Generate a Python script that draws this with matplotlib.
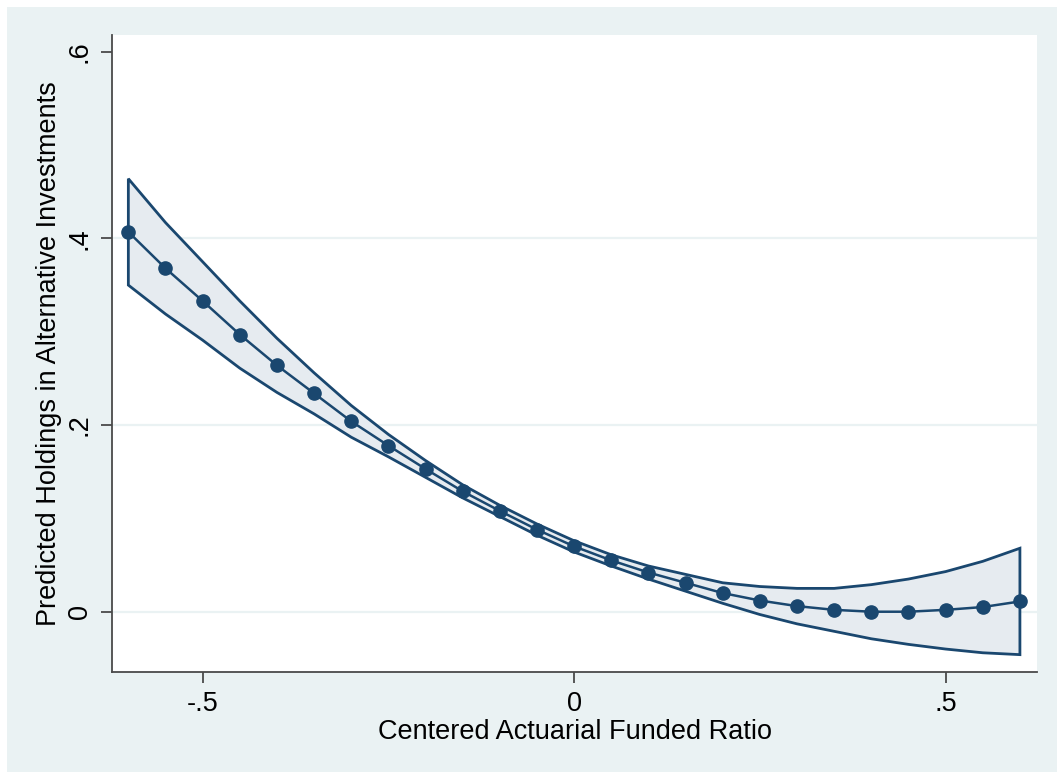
import matplotlib
matplotlib.use("Agg")
import matplotlib.pyplot as plt
from matplotlib.patches import Rectangle

# Centered actuarial funded ratio grid
funded_ratio = [-0.60, -0.55, -0.50, -0.45, -0.40, -0.35, -0.30, -0.25, -0.20,
                -0.15, -0.10, -0.05, 0.00, 0.05, 0.10, 0.15, 0.20, 0.25,
                0.30, 0.35, 0.40, 0.45, 0.50, 0.55, 0.60]

# Predicted holdings (margins) and 95% confidence bounds
predicted = [0.407, 0.368, 0.333, 0.297, 0.264, 0.234, 0.204, 0.178, 0.153,
             0.129, 0.108, 0.088, 0.070, 0.055, 0.042, 0.031, 0.020, 0.012,
             0.006, 0.002, 0.000, 0.000, 0.002, 0.005, 0.011]
upper_ci = [0.464, 0.417, 0.375, 0.333, 0.293, 0.256, 0.221, 0.190, 0.162,
            0.136, 0.114, 0.094, 0.076, 0.061, 0.049, 0.040, 0.031, 0.027,
            0.025, 0.025, 0.029, 0.035, 0.043, 0.054, 0.068]
lower_ci = [0.350, 0.319, 0.291, 0.261, 0.235, 0.212, 0.187, 0.166, 0.144,
            0.122, 0.102, 0.082, 0.064, 0.049, 0.035, 0.022, 0.009, -0.003,
            -0.013, -0.021, -0.029, -0.035, -0.040, -0.044, -0.046]

x_ticks = [-0.5, 0.0, 0.5]
x_tick_labels = ["-.5", "0", ".5"]
y_ticks = [0.0, 0.2, 0.4, 0.6]
y_tick_labels = ["0", ".2", ".4", ".6"]

NAVY = "#1a476f"
REGION = "#eaf2f3"
BAND = "#e6ebf0"
AXIS = "#4a4a4a"
FS = 19.5

plt.rcParams["font.family"] = ["Liberation Sans", "DejaVu Sans"]

fig = plt.figure(figsize=(10.57, 7.72), dpi=100)
fig.patch.set_facecolor("white")
# graph region background
fig.add_artist(Rectangle((7 / 1057, 0), 1 - 7 / 1057, 1 - 7 / 772,
                         transform=fig.transFigure, facecolor=REGION,
                         edgecolor="none", zorder=0))

ax = fig.add_axes([112 / 1057, 100 / 772, 925 / 1057, 637 / 772])
ax.set_facecolor("white")
ax.set_xlim(-0.622, 0.623)
ax.set_ylim(-0.0646, 0.618)

for yv in y_ticks[:-1]:
    ax.axhline(yv, color=REGION, lw=1.6, zorder=1)

# confidence band as a closed outlined area
band_x = funded_ratio + funded_ratio[::-1]
band_y = upper_ci + lower_ci[::-1]
ax.fill(band_x, band_y, facecolor=BAND, edgecolor=NAVY, linewidth=2.0,
        joinstyle="miter", zorder=2)

ax.plot(funded_ratio, predicted, color=NAVY, lw=1.8, marker="o",
        markersize=9.5, markerfacecolor=NAVY, markeredgecolor=NAVY, zorder=3)

for side in ("top", "right"):
    ax.spines[side].set_visible(False)
for side in ("left", "bottom"):
    ax.spines[side].set_color(AXIS)
    ax.spines[side].set_linewidth(1.3)

ax.set_xticks(x_ticks)
ax.set_xticklabels(x_tick_labels, fontsize=FS)
ax.set_yticks(y_ticks)
ax.set_yticklabels(y_tick_labels, fontsize=FS, rotation=90, va="center")
ax.tick_params(axis="both", direction="out", length=8, width=1.3,
               color=AXIS, pad=6)

ax.set_xlabel("Centered Actuarial Funded Ratio", fontsize=FS, labelpad=1)
ax.set_ylabel("Predicted Holdings in Alternative Investments", fontsize=FS,
              labelpad=3)

fig.savefig("out.png", dpi=100, facecolor=fig.get_facecolor())
